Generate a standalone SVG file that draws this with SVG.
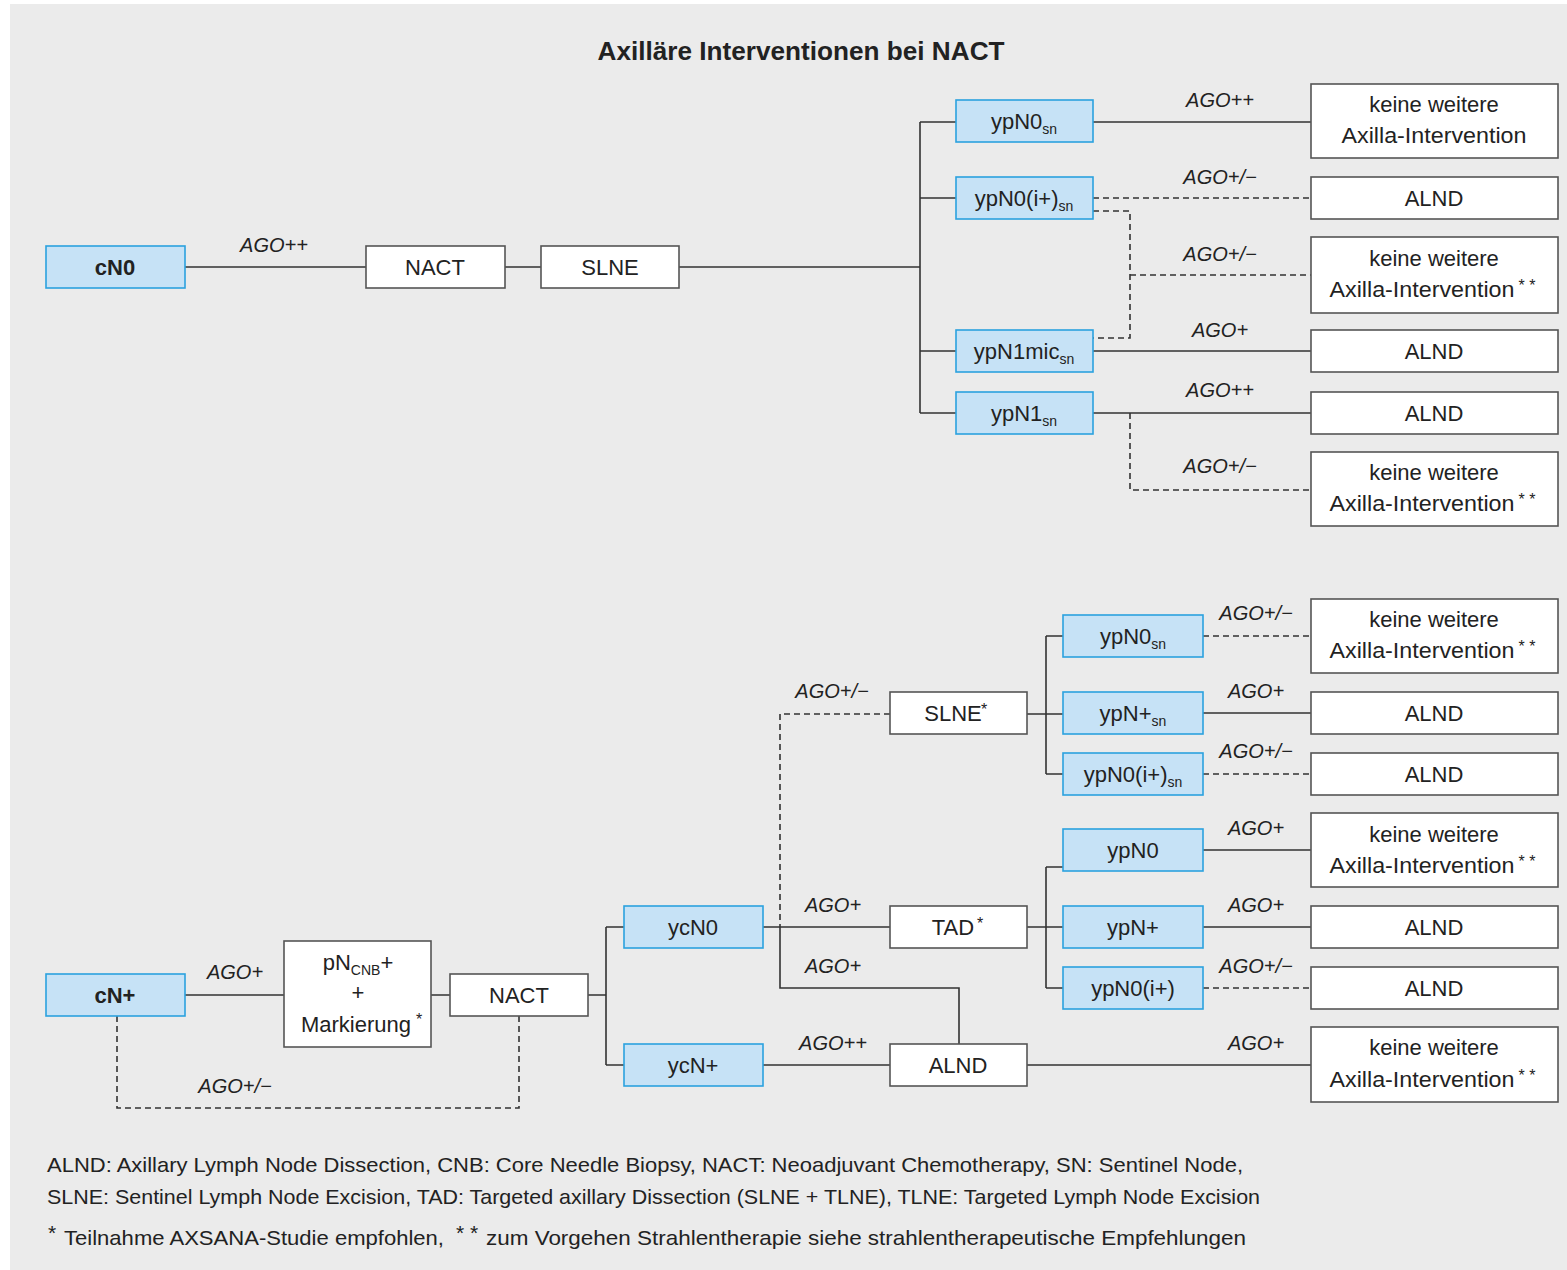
<svg xmlns="http://www.w3.org/2000/svg" width="1567" height="1270" viewBox="0 0 1567 1270">
<style>
.bg{fill:#ebebeb}
.blue{fill:#c6e2f6;stroke:#2ba2df;stroke-width:1.6}
.white{fill:#ffffff;stroke:#555555;stroke-width:1.6}
.t{font-family:"Liberation Sans",Arial,sans-serif;font-size:22px;fill:#222222;text-anchor:middle}
.b{font-weight:bold}
.lbl{font-family:"Liberation Sans",Arial,sans-serif;font-size:20px;font-style:italic;fill:#222222;text-anchor:middle}
.sub{font-size:14px}
.sup{font-size:16px}
.ln{stroke:#333333;stroke-width:1.6;fill:none}
.dash{stroke-dasharray:6 4}
.foot{font-family:"Liberation Sans",Arial,sans-serif;font-size:21px;fill:#222222}
.title{font-family:"Liberation Sans",Arial,sans-serif;font-size:25px;font-weight:bold;fill:#222222;text-anchor:middle}
</style>
<rect class="bg" x="10" y="4" width="1557" height="1266"/>
<text class="title" x="801" y="60" textLength="407" lengthAdjust="spacingAndGlyphs">Axilläre Interventionen bei NACT</text>

<g id="connectors">
<path class="ln" d="M185 267H366M505 267H541M679 267H920M920 122V413M920 122H956M920 198H956M920 351H956M920 413H956"/>
<path class="ln" d="M1093 122H1311M1093 351H1311M1093 413H1311"/>
<path class="ln dash" d="M1093 198H1311M1093 211H1130V338H1093M1130 275H1311M1130 413V490H1311"/>
<path class="ln" d="M185 995H284M431 995H450M588 995H606M606 927V1065M606 927H624M606 1065H624"/>
<path class="ln" d="M763 927H890M780 927V988H959V1044M763 1065H890M1027 1065H1311"/>
<path class="ln dash" d="M890 714H780V927M117 1016V1108H519V1016"/>
<path class="ln" d="M1027 714H1063M1046 636V774M1046 636H1063M1046 774H1063M1203 713H1311"/>
<path class="ln dash" d="M1203 636H1311M1203 774H1311"/>
<path class="ln" d="M1027 927H1063M1046 867V988M1046 867H1063M1046 988H1063M1203 850H1311M1203 927H1311"/>
<path class="ln dash" d="M1203 988H1311"/>
</g>

<g id="edge-labels">
<text class="lbl" x="274" y="252">AGO++</text>
<text class="lbl" x="1220" y="107">AGO++</text>
<text class="lbl" x="1220" y="184">AGO+/−</text>
<text class="lbl" x="1220" y="261">AGO+/−</text>
<text class="lbl" x="1220" y="337">AGO+</text>
<text class="lbl" x="1220" y="397">AGO++</text>
<text class="lbl" x="1220" y="473">AGO+/−</text>
<text class="lbl" x="235" y="979">AGO+</text>
<text class="lbl" x="235" y="1093">AGO+/−</text>
<text class="lbl" x="832" y="698">AGO+/−</text>
<text class="lbl" x="833" y="912">AGO+</text>
<text class="lbl" x="833" y="973">AGO+</text>
<text class="lbl" x="833" y="1050">AGO++</text>
<text class="lbl" x="1256" y="620">AGO+/−</text>
<text class="lbl" x="1256" y="698">AGO+</text>
<text class="lbl" x="1256" y="758">AGO+/−</text>
<text class="lbl" x="1256" y="835">AGO+</text>
<text class="lbl" x="1256" y="912">AGO+</text>
<text class="lbl" x="1256" y="973">AGO+/−</text>
<text class="lbl" x="1256" y="1050">AGO+</text>
</g>

<g id="cN0"><rect class="blue" x="46" y="246" width="139" height="42"/><text class="t b" x="115" y="275">cN0</text></g>
<g id="nact1"><rect class="white" x="366" y="246" width="139" height="42"/><text class="t" x="435" y="275">NACT</text></g>
<g id="slne1"><rect class="white" x="541" y="246" width="138" height="42"/><text class="t" x="610" y="275">SLNE</text></g>

<g id="ypN0sn-top"><rect class="blue" x="956" y="100" width="137" height="42"/><text class="t" x="1024" y="129">ypN0<tspan class="sub" dy="5">sn</tspan></text></g>
<g id="ypN0isn-top"><rect class="blue" x="956" y="177" width="137" height="42"/><text class="t" x="1024" y="206">ypN0(i+)<tspan class="sub" dy="5">sn</tspan></text></g>
<g id="ypN1micsn"><rect class="blue" x="956" y="330" width="137" height="42"/><text class="t" x="1024" y="359">ypN1mic<tspan class="sub" dy="5">sn</tspan></text></g>
<g id="ypN1sn"><rect class="blue" x="956" y="392" width="137" height="42"/><text class="t" x="1024" y="421">ypN1<tspan class="sub" dy="5">sn</tspan></text></g>

<g id="r1"><rect class="white" x="1311" y="84" width="247" height="74"/><text class="t" x="1434" y="112">keine weitere</text><text class="t" x="1434" y="143" textLength="185" lengthAdjust="spacingAndGlyphs">Axilla-Intervention</text></g>
<g id="r2"><rect class="white" x="1311" y="177" width="247" height="42"/><text class="t" x="1434" y="206">ALND</text></g>
<g id="r3"><rect class="white" x="1311" y="237" width="247" height="76"/><text class="t" x="1434" y="266">keine weitere</text><text class="t" x="1422" y="297" textLength="185" lengthAdjust="spacingAndGlyphs">Axilla-Intervention</text><text class="t sup" x="1527" y="291">* *</text></g>
<g id="r4"><rect class="white" x="1311" y="330" width="247" height="42"/><text class="t" x="1434" y="359">ALND</text></g>
<g id="r5"><rect class="white" x="1311" y="392" width="247" height="42"/><text class="t" x="1434" y="421">ALND</text></g>
<g id="r6"><rect class="white" x="1311" y="452" width="247" height="74"/><text class="t" x="1434" y="480">keine weitere</text><text class="t" x="1422" y="511" textLength="185" lengthAdjust="spacingAndGlyphs">Axilla-Intervention</text><text class="t sup" x="1527" y="505">* *</text></g>

<g id="cNplus"><rect class="blue" x="46" y="974" width="139" height="42"/><text class="t b" x="115" y="1003">cN+</text></g>
<g id="pNCNB"><rect class="white" x="284" y="941" width="147" height="106"/><text class="t" x="358" y="970">pN<tspan class="sub" dy="5">CNB</tspan><tspan dy="-5">+</tspan></text><text class="t" x="358" y="1000">+</text><text class="t" x="356" y="1032">Markierung</text><text class="t sup" x="419" y="1025">*</text></g>
<g id="nact2"><rect class="white" x="450" y="974" width="138" height="42"/><text class="t" x="519" y="1003">NACT</text></g>
<g id="ycN0"><rect class="blue" x="624" y="906" width="139" height="42"/><text class="t" x="693" y="935">ycN0</text></g>
<g id="ycNplus"><rect class="blue" x="624" y="1044" width="139" height="42"/><text class="t" x="693" y="1073">ycN+</text></g>
<g id="slne2"><rect class="white" x="890" y="692" width="137" height="42"/><text class="t" x="953" y="721">SLNE</text><text class="t sup" x="984" y="715">*</text></g>
<g id="tad"><rect class="white" x="890" y="906" width="137" height="42"/><text class="t" x="953" y="935">TAD</text><text class="t sup" x="980" y="929">*</text></g>
<g id="alnd-mid"><rect class="white" x="890" y="1044" width="137" height="42"/><text class="t" x="958" y="1073">ALND</text></g>

<g id="ypN0sn-b"><rect class="blue" x="1063" y="615" width="140" height="42"/><text class="t" x="1133" y="644">ypN0<tspan class="sub" dy="5">sn</tspan></text></g>
<g id="ypNplussn"><rect class="blue" x="1063" y="692" width="140" height="42"/><text class="t" x="1133" y="721">ypN+<tspan class="sub" dy="5">sn</tspan></text></g>
<g id="ypN0isn-b"><rect class="blue" x="1063" y="753" width="140" height="42"/><text class="t" x="1133" y="782">ypN0(i+)<tspan class="sub" dy="5">sn</tspan></text></g>
<g id="ypN0"><rect class="blue" x="1063" y="829" width="140" height="42"/><text class="t" x="1133" y="858">ypN0</text></g>
<g id="ypNplus"><rect class="blue" x="1063" y="906" width="140" height="42"/><text class="t" x="1133" y="935">ypN+</text></g>
<g id="ypN0i"><rect class="blue" x="1063" y="967" width="140" height="42"/><text class="t" x="1133" y="996">ypN0(i+)</text></g>

<g id="b1"><rect class="white" x="1311" y="599" width="247" height="74"/><text class="t" x="1434" y="627">keine weitere</text><text class="t" x="1422" y="658" textLength="185" lengthAdjust="spacingAndGlyphs">Axilla-Intervention</text><text class="t sup" x="1527" y="652">* *</text></g>
<g id="b2"><rect class="white" x="1311" y="692" width="247" height="42"/><text class="t" x="1434" y="721">ALND</text></g>
<g id="b3"><rect class="white" x="1311" y="753" width="247" height="42"/><text class="t" x="1434" y="782">ALND</text></g>
<g id="b4"><rect class="white" x="1311" y="813" width="247" height="74"/><text class="t" x="1434" y="842">keine weitere</text><text class="t" x="1422" y="873" textLength="185" lengthAdjust="spacingAndGlyphs">Axilla-Intervention</text><text class="t sup" x="1527" y="867">* *</text></g>
<g id="b5"><rect class="white" x="1311" y="906" width="247" height="42"/><text class="t" x="1434" y="935">ALND</text></g>
<g id="b6"><rect class="white" x="1311" y="967" width="247" height="42"/><text class="t" x="1434" y="996">ALND</text></g>
<g id="b7"><rect class="white" x="1311" y="1027" width="247" height="75"/><text class="t" x="1434" y="1055">keine weitere</text><text class="t" x="1422" y="1087" textLength="185" lengthAdjust="spacingAndGlyphs">Axilla-Intervention</text><text class="t sup" x="1527" y="1081">* *</text></g>

<g id="footer">
<text class="foot" x="47" y="1172" textLength="1196" lengthAdjust="spacingAndGlyphs">ALND: Axillary Lymph Node Dissection, CNB: Core Needle Biopsy, NACT: Neoadjuvant Chemotherapy, SN: Sentinel Node,</text>
<text class="foot" x="47" y="1204" textLength="1213" lengthAdjust="spacingAndGlyphs">SLNE: Sentinel Lymph Node Excision, TAD: Targeted axillary Dissection (SLNE + TLNE), TLNE: Targeted Lymph Node Excision</text>
<text class="foot sup" x="48" y="1240">*</text>
<text class="foot" x="64" y="1245" textLength="380" lengthAdjust="spacingAndGlyphs">Teilnahme AXSANA-Studie empfohlen,</text>
<text class="foot sup" x="456" y="1240">* *</text>
<text class="foot" x="486" y="1245" textLength="760" lengthAdjust="spacingAndGlyphs">zum Vorgehen Strahlentherapie siehe strahlentherapeutische Empfehlungen</text>
</g>
</svg>
